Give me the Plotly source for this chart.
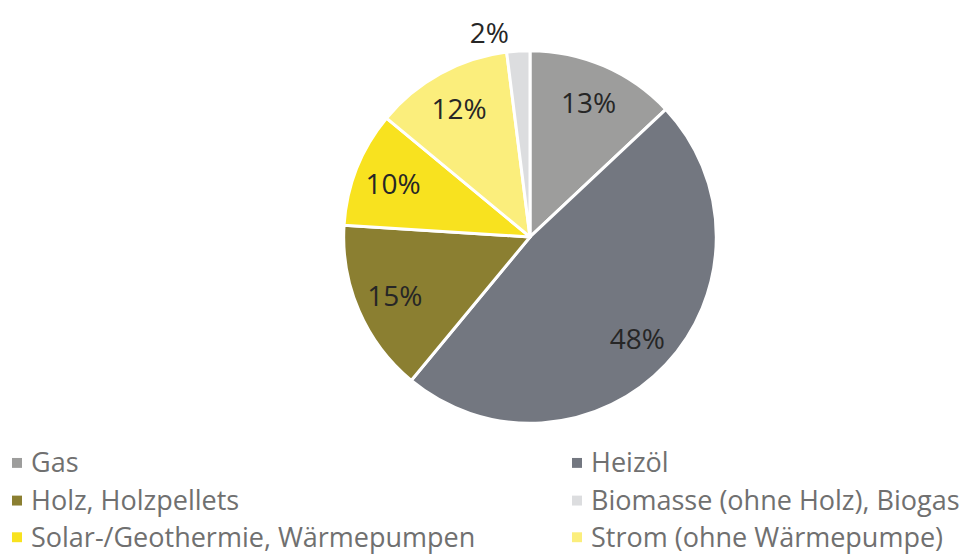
import plotly.graph_objects as go

# Slice data (clockwise from 12 o'clock)
slice_labels = ["Gas", "Heizöl", "Holz, Holzpellets", "Solar-/Geothermie, Wärmepumpen",
                "Strom (ohne Wärmepumpe)", "Biomasse (ohne Holz), Biogas"]
slice_values = [13, 48, 15, 10, 12, 2]
slice_colors = ["#9d9d9c", "#737780", "#8b7f31", "#f8e21f", "#fbee7c", "#dcdddf"]

# Legend order (two columns, row-wise)
legend_order = ["Gas", "Heizöl", "Holz, Holzpellets", "Biomasse (ohne Holz), Biogas",
                "Solar-/Geothermie, Wärmepumpen", "Strom (ohne Wärmepumpe)"]

W, H = 970, 556
OFF = 8  # page body margin of the browser
FONT = "Open Sans"
CX, CY, R = 530 - OFF, 234 - OFF, 188
color_of = dict(zip(slice_labels, slice_colors))
dom = dict(x=[(CX - R) / W, (CX + R) / W], y=[(H - CY - R) / H, (H - CY + R) / H])

fig = go.Figure()
# Filled pie
fig.add_trace(go.Pie(
    labels=slice_labels, values=slice_values, sort=False, direction="clockwise",
    rotation=0, textinfo="none",
    marker=dict(colors=slice_colors, line=dict(color="white", width=3)),
    showlegend=False, hoverinfo="label+percent", domain=dom,
))
# Transparent ring carrying the percentage labels (places text further out)
fig.add_trace(go.Pie(
    labels=slice_labels, values=slice_values, sort=False, direction="clockwise",
    rotation=0, hole=0.58,
    marker=dict(colors=["rgba(0,0,0,0)"] * len(slice_values), line=dict(width=0)),
    texttemplate="%{value}%",
    textposition=["inside"] * 5 + ["outside"],
    insidetextorientation="horizontal",
    textfont=dict(family=FONT, size=28, color="#262626"),
    showlegend=False, hoverinfo="skip", domain=dom,
))

# Legend (two columns, three rows) - screen pixel layout
col_x = [12 - OFF, 572 - OFF]
row_y = [462 - OFF, 500 - OFF, 537 - OFF]
sq = 10
for i, name in enumerate(legend_order):
    x0 = col_x[i % 2]
    yc = row_y[i // 2]
    fig.add_shape(type="rect", xref="paper", yref="paper",
                  x0=x0 / W, x1=(x0 + sq) / W,
                  y0=(H - yc - sq / 2) / H, y1=(H - yc + sq / 2) / H,
                  fillcolor=color_of[name], line=dict(width=0))
    fig.add_annotation(x=(x0 + sq + 7) / W, y=(H - yc + 1) / H, xref="paper", yref="paper",
                       text=name, showarrow=False, xanchor="left", yanchor="middle",
                       font=dict(family=FONT, size=27, color="#707070"))

fig.update_layout(
    width=W, height=H, margin=dict(l=0, r=0, t=0, b=0),
    paper_bgcolor="white", plot_bgcolor="white",
)

fig.write_html("out.html")
